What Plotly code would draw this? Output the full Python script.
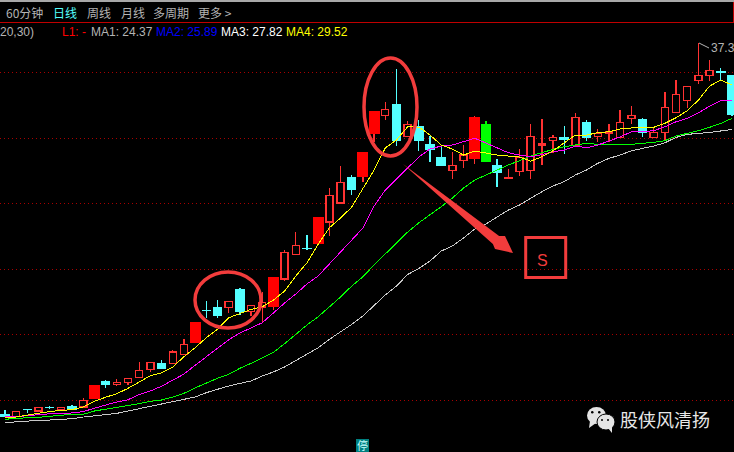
import plotly.graph_objects as go

W, H = 734, 452

kinds = ("D U D U D U D U F D U U U U D U U F D D U D U U F U U D F U U D F F "
         "U D U D D D U U F G D U U U U U D U D U U U U D U U U U U U D D").split()
opens = [8.94, 8.76, 9.30, 9.19, 9.46, 9.32, 9.55, 9.50, 10.11, 11.41, 11.20, 11.35, 11.73, 12.34, 12.78, 12.80, 13.49,
         14.38, 16.87, 17.13, 17.08, 18.43, 16.77, 17.13, 17.13, 19.27, 21.12, 21.63, 21.94, 23.62, 25.07, 27.05, 27.05,
         30.34, 31.76, 32.63, 30.16, 30.95, 29.57, 28.58, 27.56, 28.33, 28.43, 31.10, 27.97, 26.92, 27.49, 27.56, 29.50,
         29.85, 30.08, 29.44, 31.25, 30.16, 30.36, 30.08, 31.53, 31.41, 30.08, 30.47, 31.99, 32.91, 34.41, 34.79, 35.08, 34.77]
closes = [8.79, 9.17, 9.27, 9.44, 9.42, 9.46, 9.29, 10.01, 11.18, 11.18, 11.38, 11.66, 12.30, 12.91, 12.47, 13.69, 14.28,
          15.96, 16.84, 16.52, 17.56, 16.75, 17.26, 17.49, 19.42, 21.31, 21.84, 21.60, 24.04, 25.63, 26.62, 26.13, 28.96,
          32.09, 32.22, 29.83, 31.08, 29.88, 29.14, 27.97, 27.95, 28.73, 31.63, 28.22, 27.38, 27.03, 28.53, 30.16, 29.57,
          30.08, 29.93, 31.61, 30.05, 30.36, 30.49, 31.23, 31.73, 30.44, 30.44, 32.37, 33.37, 33.98, 34.82, 35.21, 35.00, 31.86]
highs = [9.27, 9.17, 9.30, 9.44, 9.57, 9.46, 9.65, 10.18, 11.18, 11.56, 11.61, 11.66, 12.95, 12.91, 13.06, 13.85, 14.66,
         15.96, 17.59, 17.66, 17.56, 18.58, 17.26, 18.30, 19.42, 21.48, 22.85, 22.63, 24.04, 26.21, 27.89, 27.21, 28.96,
         32.09, 32.79, 35.31, 31.33, 31.41, 30.18, 29.37, 28.94, 29.50, 31.71, 31.31, 28.43, 27.66, 29.17, 31.08, 31.46,
         30.26, 30.95, 31.96, 31.41, 30.70, 31.10, 32.17, 32.47, 31.56, 30.85, 33.52, 34.46, 33.98, 37.30, 35.97, 35.38, 34.77]
lows = [8.79, 8.76, 9.04, 9.19, 9.34, 9.32, 9.29, 9.50, 10.11, 10.97, 11.10, 11.20, 11.73, 12.19, 12.40, 12.80, 13.49,
        14.38, 16.31, 16.31, 16.67, 16.52, 16.44, 15.98, 16.92, 19.11, 21.12, 21.48, 21.94, 22.55, 25.07, 25.68, 26.67,
        29.73, 31.42, 29.44, 30.16, 29.06, 28.22, 27.89, 26.90, 27.76, 28.07, 28.22, 26.31, 26.92, 27.15, 26.92, 27.97,
        28.89, 28.81, 29.44, 29.83, 29.73, 29.70, 30.08, 31.10, 30.13, 30.08, 29.88, 31.99, 32.30, 34.18, 34.38, 34.44, 31.71]

ma_yellow = [8.73, 8.73, 8.88, 9.04, 9.15, 9.23, 9.30, 9.50, 9.93, 10.24, 10.51, 10.92, 11.43, 11.89, 12.11, 12.55, 13.34,
             14.02, 14.79, 15.43, 16.31, 16.65, 16.95, 17.15, 17.66, 18.35, 19.50, 20.51, 21.92, 23.18, 23.92, 24.76, 26.21,
             27.59, 29.27, 29.88, 30.89, 30.87, 30.26, 29.50, 29.19, 28.73, 29.04, 28.91, 28.73, 28.66, 28.58, 28.27, 28.60,
             29.06, 29.63, 30.26, 30.26, 30.44, 30.51, 30.72, 30.80, 30.82, 30.85, 31.15, 31.58, 32.12, 32.93, 34.00, 34.46, 34.08]
ma_magenta = [8.76, 8.76, 8.83, 8.92, 8.98, 9.02, 9.04, 9.15, 9.42, 9.65, 9.88, 10.05, 10.45, 10.72, 11.08, 11.56, 12.01,
              12.68, 13.34, 14.02, 14.63, 15.14, 15.55, 15.93, 16.67, 17.44, 18.12, 18.89, 19.50, 20.41, 21.27, 22.17, 23.16,
              24.84, 26.06, 26.90, 27.74, 28.58, 29.19, 29.42, 29.50, 29.75, 30.01, 29.65, 29.27, 28.91, 28.73, 28.60, 28.76,
              28.99, 29.11, 29.42, 29.29, 29.50, 29.80, 30.11, 30.51, 30.51, 30.59, 30.89, 31.27, 31.53, 31.96, 32.47, 32.88, 32.88]
ma_green = [8.56, 8.63, 8.68, 8.71, 8.76, 8.86, 8.94, 8.94, 9.19, 9.32, 9.44, 9.57, 9.75, 9.93, 10.03, 10.26, 10.54,
            10.95, 11.35, 11.69, 11.99, 12.45, 12.83, 13.26, 13.67, 14.33, 15.05, 15.76, 16.39, 17.13, 17.89, 18.73, 19.44,
            20.34, 21.18, 22.04, 22.85, 23.56, 24.15, 24.79, 25.45, 26.21, 26.82, 27.21, 27.59, 27.97, 28.30, 28.66, 28.91,
            29.17, 29.37, 29.50, 29.63, 29.55, 29.50, 29.55, 29.55, 29.63, 29.70, 29.83, 30.18, 30.39, 30.59, 30.85, 31.15, 31.53]
ma_gray = [8.30, 8.37, 8.43, 8.48, 8.50, 8.53, 8.60, 8.73, 8.81, 8.91, 9.01, 9.19, 9.37, 9.57, 9.75, 9.95, 10.13,
           10.26, 10.59, 10.87, 11.10, 11.30, 11.48, 11.86, 12.17, 12.55, 13.06, 13.56, 14.02, 14.66, 15.22, 15.81, 16.44,
           17.21, 18.05, 18.73, 19.61, 20.07, 20.64, 21.40, 21.79, 22.40, 23.08, 23.47, 24.02, 24.53, 24.92, 25.45, 25.93,
           26.37, 26.70, 27.21, 27.59, 28.10, 28.48, 28.73, 29.06, 29.24, 29.42, 29.67, 30.08, 30.31, 30.36, 30.46, 30.57, 30.68]

grid_levels = [35, 30, 25, 20, 15, 10]
tabs = ["60分钟", "日线", "周线", "月线", "多周期", "更多 >"]
legend_items = ["20,30)", "L1: -", "MA1: 24.37", "MA2: 25.89", "MA3: 27.82", "MA4: 29.52"]

RED, REDLINE, CYAN, GREEN = "#ff0000", "#ff3232", "#54ffff", "#00ff00"
ANNOT = "#f23c3c"
TXT = "#b4b4b4"


def px(x):
    return x / W


def py(y):
    return 1 - y / H


fig = go.Figure()
idx = list(range(len(kinds)))
styles = {
    "U": dict(width=0.63, fill="#000000", line=REDLINE, lw=1.4),
    "F": dict(width=0.97, fill=RED, line=RED, lw=0),
    "D": dict(width=0.76, fill=CYAN, line=CYAN, lw=1),
    "G": dict(width=0.97, fill=GREEN, line=GREEN, lw=0),
}
wick_colors = {"U": REDLINE, "F": REDLINE, "D": CYAN, "G": GREEN}

for kind, st in styles.items():
    sel = [i for i in idx if kinds[i] == kind]
    bottoms = [min(opens[i], closes[i]) for i in sel]
    tops = [max(opens[i], closes[i]) for i in sel]
    fig.add_trace(go.Bar(
        x=sel, y=[t - b for t, b in zip(tops, bottoms)], base=bottoms, width=st["width"],
        marker=dict(color=st["fill"], line=dict(color=st["line"], width=st["lw"])),
        showlegend=False, hoverinfo="skip",
    ))
    wx, wy = [], []
    for i in sel:
        t, b = max(opens[i], closes[i]), min(opens[i], closes[i])
        if highs[i] > t:
            wx += [i, i, None]
            wy += [t, highs[i], None]
        if lows[i] < b:
            wx += [i, i, None]
            wy += [b, lows[i], None]
    fig.add_trace(go.Scatter(x=wx, y=wy, mode="lines", line=dict(color=wick_colors[kind], width=1.3),
                             showlegend=False, hoverinfo="skip"))

for series, color in [(ma_gray, "#c8c8c8"), (ma_green, "#00ff00"), (ma_magenta, "#ff00ff"), (ma_yellow, "#ffff00")]:
    fig.add_trace(go.Scatter(x=idx, y=series, mode="lines", line=dict(color=color, width=1),
                             showlegend=False, hoverinfo="skip"))

annots = []


def label(x, y, text, color, size, font="Liberation Sans", anchor="left"):
    annots.append(dict(xref="paper", yref="paper", x=px(x), y=py(y), text=text, showarrow=False,
                       xanchor=anchor, yanchor="middle", align=anchor,
                       font=dict(color=color, size=size, family=font), borderpad=0, borderwidth=0))


CJK = "Noto Sans CJK SC"
for t, x, c in zip(tabs, [6, 53, 87, 121, 153, 198], [TXT, CYAN, TXT, TXT, TXT, TXT]):
    label(x, 12, t, c, 12, CJK)
for t, x, c in zip(legend_items, [0, 62, 91, 156, 221, 286],
                   ["#b4b4b4", "#ff0000", "#b4b4b4", "#0000ff", "#ffffff", "#ffff00"]):
    label(x, 32, t, c, 12)
label(710.5, 48, "37.3", "#b4b4b4", 12)
label(542, 260, "S", ANNOT, 16, anchor="center")
label(620, 419, "股侠风清扬", "#e8e8e8", 18, CJK)
label(362.5, 445, "停", "#c8ffff", 11, CJK, anchor="center")


def rect(x0, y0, x1, y1, **kw):
    return dict(type="rect", xref="paper", yref="paper", x0=px(x0), x1=px(x1), y0=py(y0), y1=py(y1), **kw)


def oval(x0, y0, x1, y1, **kw):
    return dict(type="circle", xref="paper", yref="paper", x0=px(x0), x1=px(x1), y0=py(y0), y1=py(y1), **kw)


def poly(points, **kw):
    d = "M" + " L".join(f"{px(x):.5f},{py(y):.5f}" for x, y in points) + " Z"
    return dict(type="path", xref="paper", yref="paper", path=d, **kw)


NOLINE = dict(width=0)
shapes = [
    rect(0, 0, W, 2, fillcolor="#a8a8a8", line=NOLINE),
    rect(0, 22, W, 23, fillcolor="#c00000", line=NOLINE),
    rect(733, 2, W, 23, fillcolor="#c00000", line=NOLINE),
    oval(195, 272, 261, 328, line=dict(color=ANNOT, width=3.5)),
    oval(364, 58, 417, 156, line=dict(color=ANNOT, width=3.5)),
    poly([(403, 164), (499.1, 236.1), (505, 236), (513, 253), (495, 249), (492.9, 243.9)],
         fillcolor=ANNOT, line=NOLINE),
    rect(525.7, 237.5, 565.7, 277.5, line=dict(color=ANNOT, width=3)),
    rect(356, 439, 369, H, fillcolor="#008080", line=NOLINE),
    dict(type="line", xref="paper", yref="paper", x0=px(699), y0=py(43), x1=px(709), y1=py(48),
         line=dict(color="#b4b4b4", width=1)),
    # WeChat mark of the watermark
    oval(587, 407, 606, 424, fillcolor="#e4e4e4", line=NOLINE),
    poly([(590, 421), (589, 428), (596, 423)], fillcolor="#e4e4e4", line=NOLINE),
    oval(597, 414, 615, 430, fillcolor="#e4e4e4", line=dict(color="#000000", width=1)),
    poly([(608, 428), (612, 433), (612, 426)], fillcolor="#e4e4e4", line=NOLINE),
    oval(591, 411, 593.5, 413.5, fillcolor="#000000", line=NOLINE),
    oval(598, 411, 600.5, 413.5, fillcolor="#000000", line=NOLINE),
    oval(601, 419, 603, 421, fillcolor="#000000", line=NOLINE),
    oval(607, 419, 609, 421, fillcolor="#000000", line=NOLINE),
]

fig.update_layout(
    width=W, height=H, margin=dict(l=0, r=0, t=0, b=0), autosize=False,
    paper_bgcolor="#000000", plot_bgcolor="#000000", barmode="overlay", showlegend=False,
    annotations=annots, shapes=shapes,
    xaxis=dict(range=[-0.447, 65.18], visible=False, fixedrange=True),
    yaxis=dict(range=[6.06, 40.57], tickvals=grid_levels, showticklabels=False, ticks="", zeroline=False,
               showline=False, showgrid=True, gridcolor="#a80000", gridwidth=1, griddash="1px,3px", fixedrange=True),
)

fig.write_html("out.html", config={"displayModeBar": False},
               post_script="document.body.style.margin='0';document.documentElement.style.overflow='hidden';"
                           "document.querySelectorAll('.scatterlayer path, .barlayer path')"
                           ".forEach(function(p){p.style.shapeRendering='crispEdges';});")
